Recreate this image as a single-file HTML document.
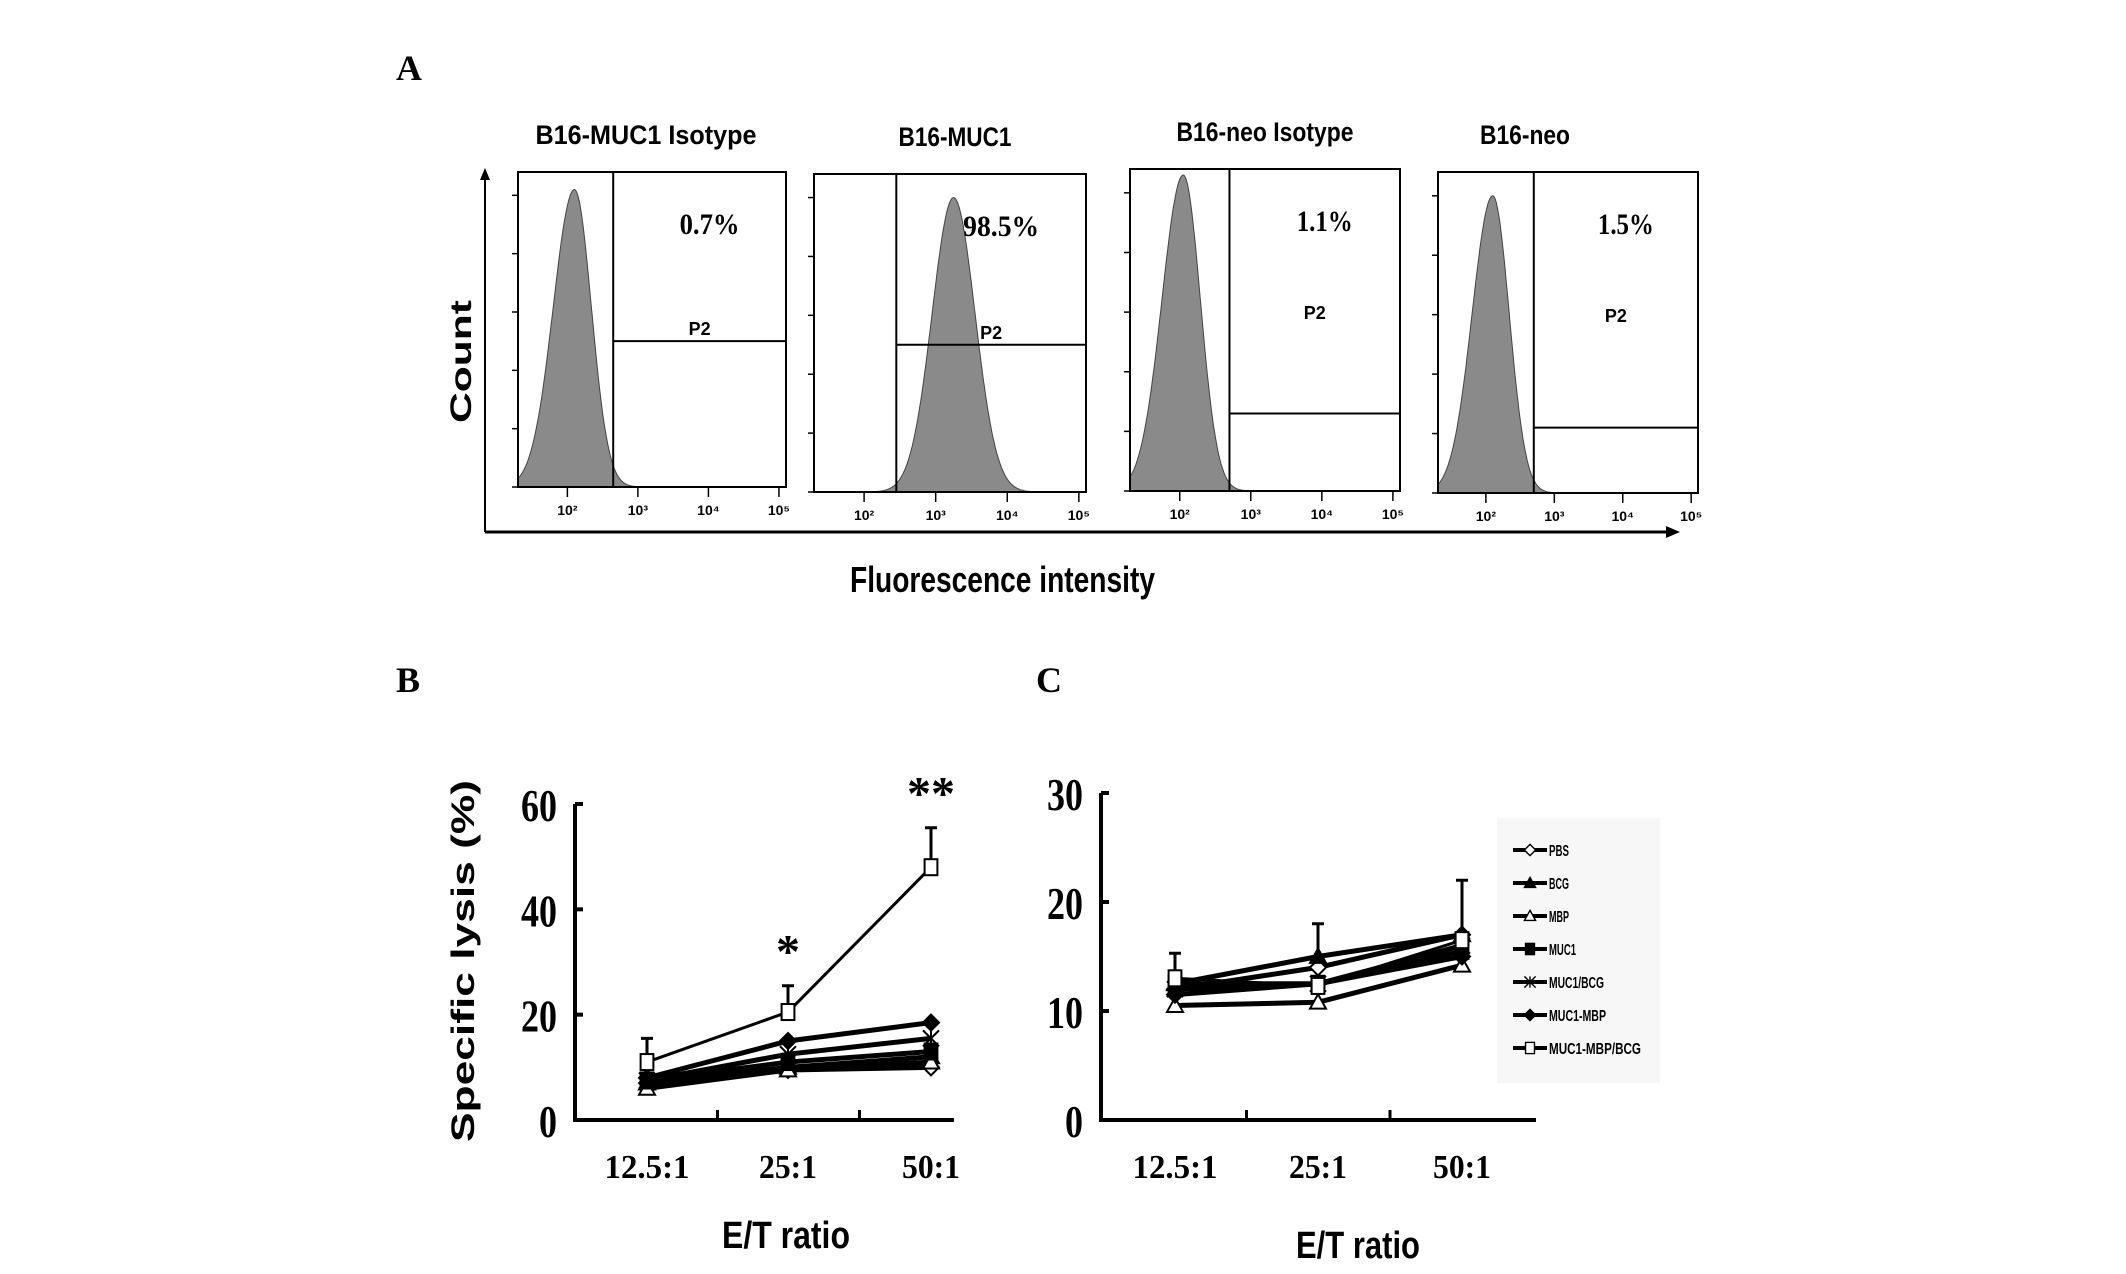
<!DOCTYPE html>
<html><head><meta charset="utf-8"><style>
body{margin:0;background:#fff;}
svg{display:block;}
text{fill:#000;}
.sans{font-family:"Liberation Sans",sans-serif;font-weight:bold;}
.serif{font-family:"Liberation Serif",serif;font-weight:bold;}
</style></head><body>
<svg id="fig" width="2126" height="1274" viewBox="0 0 2126 1274" xmlns="http://www.w3.org/2000/svg">
<rect width="2126" height="1274" fill="#fff"/>
<text class="serif" x="396" y="80" font-size="36">A</text>
<text class="serif" x="396" y="692" font-size="36">B</text>
<text class="serif" x="1036" y="692" font-size="36">C</text>
<g id="panelA">
<line x1="485" y1="532" x2="485" y2="176" stroke="#000" stroke-width="2"/>
<polygon points="480,180 485,168 490,180" fill="#000"/>
<line x1="485" y1="532" x2="1668" y2="532" stroke="#000" stroke-width="3"/>
<polygon points="1666,526 1680,532 1666,538" fill="#000"/>
<text class="sans" x="0" y="0" font-size="30" textLength="123" lengthAdjust="spacingAndGlyphs" transform="translate(471,423) rotate(-90)">Count</text>
<text class="sans" x="850" y="592" font-size="36" textLength="305" lengthAdjust="spacingAndGlyphs">Fluorescence intensity</text>
</g>
<g id="panelB">
<text class="sans" x="0" y="0" font-size="32" textLength="362" lengthAdjust="spacingAndGlyphs" transform="translate(474,1142) rotate(-90)">Specific lysis (%)</text>
<text class="sans" x="722" y="1248" font-size="38" textLength="128" lengthAdjust="spacingAndGlyphs">E/T ratio</text>
</g>
<g id="panelC">
<rect x="1497" y="818" width="163" height="265" fill="#f7f7f7"/>
<text class="sans" x="1296" y="1258" font-size="38" textLength="124" lengthAdjust="spacingAndGlyphs">E/T ratio</text>
</g>
</svg>
<script>
const NS='http://www.w3.org/2000/svg';
// ---- Panel A data ----
const histTitles=['B16-MUC1 Isotype','B16-MUC1','B16-neo Isotype','B16-neo'];
const histPercents=['0.7%','98.5%','1.1%','1.5%'];
const histPeakLog=[2.1,3.25,2.05,2.1];      // log10 fluorescence at peak
const histPeakCount=[255,250,265,250];
const histGateLog=[2.65,2.45,2.7,2.7];
const histGateHeight=[125,125,65,55];
// ---- Panel B data ----
const categories=['12.5:1','25:1','50:1'];
const seriesNames=['PBS','BCG','MBP','MUC1','MUC1/BCG','MUC1-MBP','MUC1-MBP/BCG'];
const bPBS=[7,9.5,10];
const bBCG=[7,10,12];
const bMBP=[6,9.5,11];
const bMUC1=[7.5,11,13];
const bMUC1BCG=[7.5,12.5,15.5];
const bMUC1MBP=[8,15,18.5];
const bMUC1MBPBCG=[11,20.5,48];
const bErr=[4.5,5,7.5];
const bTicks=[0,20,40,60];
const bStars=['','*','**'];
// ---- Panel C data ----
const cPBS=[12,14,17];
const cBCG=[12.5,15,17];
const cMBP=[10.5,10.8,14.2];
const cMUC1=[12.5,12.5,15.5];
const cMUC1BCG=[12,12.5,16];
const cMUC1MBP=[11.5,12.5,15];
const cMUC1MBPBCG=[13,12.3,16.5];
const cErr=[2.8,3,5];
const cTicks=[0,10,20,30];
const markers=['odiamond','triangle','otriangle','square','star','diamond','osquare'];

const svg=document.getElementById('fig');
function mk(tag,attrs,parent){const e=document.createElementNS(NS,tag);for(const k in attrs)e.setAttribute(k,attrs[k]);(parent||svg).appendChild(e);return e;}

// ---- Panel A ----
const gA=document.getElementById('panelA');
const boxes=[[518,172,786,487],[814,174,1086,492],[1130,169,1400,491],[1438,172,1698,493]];
const titleX=[646,955,1265,1525],titleW=[221,113,177,90];
boxes.forEach((b,i)=>{
  const [x0,y0,x1,y1]=b;
  const lx=v=>x0+(v-1.3)/(5.1-1.3)*(x1-x0);
  const ly=c=>y1-c/270*(y1-y0);
  const g=mk('g',{},gA);
  
  
  let pts=[];
  for(let v=1.3;v<=5.05;v+=0.01){
    const s=histPeakLog[i]; const w=(i==1)?0.3:(v<s?0.3:0.24);
    const c=histPeakCount[i]*Math.exp(-Math.pow((v-s)/w,2)/2);
    pts.push(lx(v).toFixed(1)+','+ly(c).toFixed(1));
  }
  pts.push(lx(5.05)+','+y1); pts.push(lx(1.3)+','+y1);
  const h=mk('polygon',{points:pts.join(' '),fill:'#8a8a8a',stroke:'#444','stroke-width':1},g);
  
  
  const r=mk('rect',{x:x0,y:y0,width:x1-x0,height:y1-y0,fill:'none',stroke:'#000','stroke-width':2},g);
  
  
  const gx=lx(histGateLog[i]);
  const gl=mk('line',{x1:gx,y1:y0,x2:gx,y2:y1,stroke:'#000','stroke-width':2},g);
  
  
  const gh=mk('line',{x1:gx,y1:ly(histGateHeight[i]),x2:x1,y2:ly(histGateHeight[i]),stroke:'#000','stroke-width':2},g);
  
  
  const p2=mk('text',{x:(gx+x1)/2,y:(i<2?ly(histGateHeight[i])-6:y0+150),'font-size':18,'text-anchor':'middle','class':'sans'},g);
  p2.textContent='P2'; p2.setAttribute('font-weight','normal');
  
  
  const pc=mk('text',{x:(gx+x1)/2+10,y:y0+62,'font-size':30,'text-anchor':'middle','class':'serif',textLength:[60,76,56,56][i],lengthAdjust:'spacingAndGlyphs'},g);
  pc.textContent=histPercents[i];
  
  
  const t=mk('text',{x:titleX[i]-titleW[i]/2,y:b[1]-28,'font-size':27,'class':'sans',textLength:titleW[i],lengthAdjust:'spacingAndGlyphs'},g);
  t.textContent=histTitles[i];
  
  
  [2,3,4,5].forEach(d=>{
    const tl=mk('text',{x:lx(d),y:y1+28,'font-size':14,'text-anchor':'middle','class':'sans'},g);
    tl.setAttribute('font-weight','normal');
    tl.textContent='10'+['²','³','⁴','⁵'][d-2];
    
    
    mk('line',{x1:lx(d),y1:y1,x2:lx(d),y2:y1+10,stroke:'#000','stroke-width':1.5},g);
  });
  [0,50,100,150,200,250].forEach(c=>{
    mk('line',{x1:x0-6,y1:ly(c),x2:x0,y2:ly(c),stroke:'#000','stroke-width':1.5},g);
  });
});

// ---- Line charts ----
function marker(g,type,x,y){
  const s=8;let e;
  if(type.endsWith('diamond'))e=mk('polygon',{points:`${x},${y-s} ${x+s},${y} ${x},${y+s} ${x-s},${y}`},g);
  else if(type.endsWith('triangle'))e=mk('polygon',{points:`${x},${y-s} ${x+s},${y+s*0.8} ${x-s},${y+s*0.8}`},g);
  else if(type.endsWith('square'))e=mk('rect',{x:x-s*0.8,y:y-s,width:1.6*s,height:2*s},g);
  else {e=mk('path',{d:`M${x-s},${y-s}L${x+s},${y+s}M${x+s},${y-s}L${x-s},${y+s}M${x},${y-s}L${x},${y+s}`},g);}
  e.setAttribute('fill',type.startsWith('o')?'#fff':'#000');
  e.setAttribute('stroke','#000');e.setAttribute('stroke-width',2);
  
  
}
function lineChart(gid,ax,series,ticks,ymax,err,errIdx,stars){
  const g=document.getElementById(gid);
  const [xL,xR,yB,yT]=ax;
  const xs=[ax[4],ax[5],ax[6]];
  const X=i=>xs[i];
  const Y=v=>yB-v/ymax*(yB-yT);
  const a=mk('path',{d:`M${xL},${yT}L${xL},${yB}L${xR},${yB}`,fill:'none',stroke:'#000','stroke-width':4},g);
  
  
  ticks.forEach(t=>{
    mk('line',{x1:xL,y1:Y(t),x2:xL+8,y2:Y(t),stroke:'#000','stroke-width':4},g);
    const tl=mk('text',{x:xL-18-(t>=10?36:18),y:Y(t)+17,'font-size':46,'class':'serif',textLength:t>=10?36:18,lengthAdjust:'spacingAndGlyphs'},g);
    tl.setAttribute('font-weight','normal');
    tl.textContent=t;
    
    
  });
  [0,1].forEach(i=>{const mx=(X(i)+X(i+1))/2;mk('line',{x1:mx,y1:yB,x2:mx,y2:yB-10,stroke:'#000','stroke-width':3},g);});
  categories.forEach((c,i)=>{
    const w=[85,58,58][i];
    const tl=mk('text',{x:X(i)-w/2,y:yB+58,'font-size':34,'class':'serif',textLength:w,lengthAdjust:'spacingAndGlyphs'},g);
    tl.textContent=c;
    
    
  });
  series.forEach((s,k)=>{
    const sg=mk('g',{},g);
    
    
    const p=mk('polyline',{points:s.map((v,i)=>X(i)+','+Y(v)).join(' '),fill:'none',stroke:'#000','stroke-width':k==6?3:5},sg);
    
    
    if(k===errIdx){
      s.forEach((v,i)=>{
        const e=err[i];
        const el=mk('path',{d:`M${X(i)},${Y(v)}L${X(i)},${Y(v+e)}M${X(i)-6},${Y(v+e)}L${X(i)+6},${Y(v+e)}`,stroke:'#000','stroke-width':3},sg);
        
        
      });
    }
    s.forEach((v,i)=>marker(sg,markers[k],X(i),Y(v)));
  });
  if(stars){
    stars.forEach((st,i)=>{if(!st)return;
      const sv=series[6][i]+err[i];
      const t=mk('text',{x:X(i),y:Y(sv)-18,'font-size':48,'text-anchor':'middle','class':'serif'},g);
      t.setAttribute('font-weight','normal');
      t.textContent=st;
      
      
    });
  }
}
lineChart('panelB',[575,954,1120,804,647,788,931],[bPBS,bBCG,bMBP,bMUC1,bMUC1BCG,bMUC1MBP,bMUC1MBPBCG],bTicks,60,bErr,6,bStars);
lineChart('panelC',[1101,1536,1120,793,1175,1318,1462],[cPBS,cBCG,cMBP,cMUC1,cMUC1BCG,cMUC1MBP,cMUC1MBPBCG],cTicks,30,cErr,1,null);
// legend
const gC=document.getElementById('panelC');
seriesNames.forEach((n,k)=>{
  const y=850+k*33;
  const lg=mk('g',{},gC);
  
  
  mk('line',{x1:1513,y1:y,x2:1547,y2:y,stroke:'#000','stroke-width':4},lg);
  const mg=mk('g',{transform:`translate(1530,${y}) scale(0.7) translate(-1530,${-y})`},lg);
  marker(mg,markers[k],1530,y);
  const t=mk('text',{x:1549,y:y+6,'font-size':16,'class':'sans',textLength:[20,20,20,27,55,57,92][k],lengthAdjust:'spacingAndGlyphs'},lg);
  t.textContent=n;
});
</script>
</body></html>
